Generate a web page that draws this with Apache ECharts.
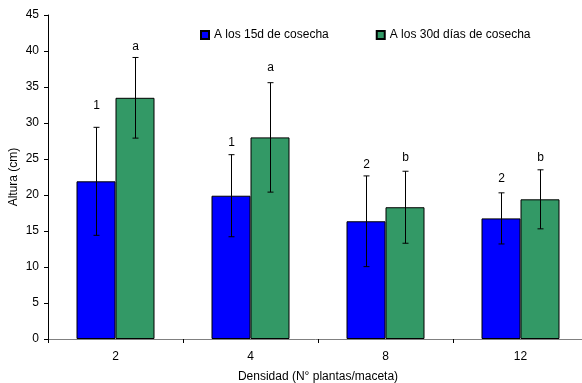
<!DOCTYPE html>
<html><head><meta charset="utf-8">
<script src="https://cdn.jsdelivr.net/npm/echarts@6/dist/echarts.min.js"></script>
<style>html,body{margin:0;padding:0;background:#fff}#c{width:582px;height:383px}</style>
</head><body><div id="c"></div>
<script>
var categories = ['2', '4', '8', '12'];
var mean15 = [21.9, 19.9, 16.35, 16.75];
var err15 = [7.5, 5.7, 6.3, 3.55];
var mean30 = [33.5, 28.0, 18.3, 19.4];
var err30 = [5.6, 7.6, 5.0, 4.1];
var letters15 = ['1', '1', '2', '2'];
var letters30 = ['a', 'a', 'b', 'b'];
var letterY15 = [32.4, 27.2, 24.2, 22.2];
var letterY30 = [40.6, 37.7, 25.2, 25.2];
var yTicks = [0, 45, 5];

var FONT = 'Liberation Sans, Arial, sans-serif';
var BW = 39;

function errSeries(means, errs, letters, letterY, side) {
  var data = means.map(function (m, i) { return [i, m - errs[i], m + errs[i], letterY[i]]; });
  return {
    type: 'custom', z: 10, silent: true,
    data: data,
    encode: { x: 0, y: [1, 2] },
    renderItem: function (params, api) {
      var i = api.value(0);
      var lo = api.coord([i, api.value(1)]);
      var hi = api.coord([i, api.value(2)]);
      var lab = api.coord([i, api.value(3)]);
      var x = Math.round(lo[0] + side * BW / 2) + 0.5;
      var cap = 3;
      var st = { stroke: '#000', lineWidth: 1 };
      return {
        type: 'group', children: [
          { type: 'line', shape: { x1: x, y1: lo[1], x2: x, y2: hi[1] }, style: st },
          { type: 'line', shape: { x1: x - cap, y1: lo[1], x2: x + cap, y2: lo[1] }, style: st },
          { type: 'line', shape: { x1: x - cap, y1: hi[1], x2: x + cap, y2: hi[1] }, style: st },
          { type: 'text', x: x, y: lab[1], style: { text: letters[params.dataIndex], fill: '#000', font: '12px ' + FONT, align: 'center', verticalAlign: 'middle' } }
        ]
      };
    }
  };
}

var chart = echarts.init(document.getElementById('c'), null, { renderer: 'canvas' });
chart.setOption({
  animation: false,
  backgroundColor: '#fff',
  textStyle: { fontFamily: FONT },
  legend: {
    top: 29, left: 200, padding: 0,
    itemWidth: 8, itemHeight: 8, itemGap: 47,
    textStyle: { fontSize: 12, color: '#000', fontFamily: FONT },
    data: [
      { name: 'A los 15d de cosecha', icon: 'rect' },
      { name: 'A los 30d días de cosecha', icon: 'rect' }
    ]
  },
  grid: { left: 48, top: 15, width: 540, height: 324, outerBoundsMode: 'none', containLabel: false },
  xAxis: {
    type: 'category', data: categories,
    name: 'Densidad (N° plantas/maceta)', nameLocation: 'middle', nameGap: 32, nameMoveOverlap: false,
    nameTextStyle: { fontSize: 12, color: '#000', fontFamily: FONT },
    axisLine: { lineStyle: { color: '#808080', width: 1 } },
    axisTick: { show: true, length: 4, lineStyle: { color: '#000' } },
    axisLabel: { fontSize: 12, color: '#000', margin: 12, fontFamily: FONT }
  },
  yAxis: {
    type: 'value', min: yTicks[0], max: yTicks[1], interval: yTicks[2],
    name: 'Altura (cm)', nameLocation: 'middle', nameGap: 28, nameMoveOverlap: false,
    nameTextStyle: { fontSize: 12, color: '#000', fontFamily: FONT },
    axisLine: { show: true, lineStyle: { color: '#000', width: 1 } },
    axisTick: { show: true, length: 4, lineStyle: { color: '#000' } },
    axisLabel: { fontSize: 12, color: '#000', margin: 9, fontFamily: FONT },
    splitLine: { show: false }
  },
  series: [
    { name: 'A los 15d de cosecha', type: 'bar', data: mean15, barWidth: BW, barGap: '0%',
      itemStyle: { color: '#0000FF', borderColor: '#000', borderWidth: 1 } },
    { name: 'A los 30d días de cosecha', type: 'bar', data: mean30, barWidth: BW, barGap: '0%',
      itemStyle: { color: '#339966', borderColor: '#000', borderWidth: 1 } },
    errSeries(mean15, err15, letters15, letterY15, -1),
    errSeries(mean30, err30, letters30, letterY30, 1)
  ]
});
</script></body></html>
